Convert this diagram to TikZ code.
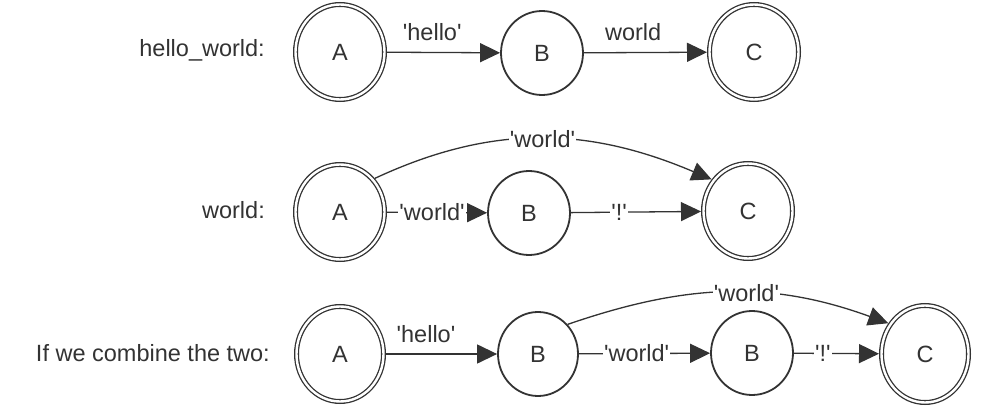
\documentclass[tikz,border=0pt]{standalone}
\usepackage{fontspec}
\setmainfont{Liberation Sans}[Ligatures=TeXOff]
\usetikzlibrary{arrows.meta,shapes.geometric}
\definecolor{ink}{HTML}{333333}
\begin{document}
\begin{tikzpicture}[x=1pt,y=-1pt,
  every node/.style={text=ink, font=\fontsize{23.5}{28}\selectfont},
  state/.style={ellipse, draw=ink, line width=1.8pt, inner sep=0pt, outer sep=0.9pt},
  accept/.style={ellipse, draw=ink, line width=1.3pt, double=white, double distance=2.4pt, inner sep=0pt, outer sep=2.5pt},
  edge/.style={draw=ink, line width=1.3pt, -{Triangle[length=20pt,width=19pt]}},
  onlab/.style={fill=white, inner sep=1pt},
  toplab/.style={above=10pt, inner sep=1pt},
  rowlabel/.style={anchor=east, inner sep=0pt}]
\fill[white] (0,0) rectangle (1001,409);
\useasboundingbox (0,0) rectangle (1001,409);

% Row 1
\node[rowlabel] (l1) at (265,50) {hello\_world:};
\node[accept, minimum width=89pt, minimum height=95pt] (a1) at (340,52) {A};
\node[state, minimum width=82pt, minimum height=84pt] (b1) at (542,53) {B};
\node[accept, minimum width=89pt, minimum height=95pt] (c1) at (754,52) {C};
\draw[edge] (a1) -- node[toplab, pos=0.4] {'hello'} (b1);
\draw[edge] (b1) -- node[toplab, pos=0.4] {world} (c1);

% Row 2
\node[rowlabel] (l2) at (265,210) {world:};
\node[accept, minimum width=89pt, minimum height=95pt] (a2) at (340,212) {A};
\node[state, minimum width=82pt, minimum height=84pt] (b2) at (529,213) {B};
\node[accept, minimum width=89pt, minimum height=95pt] (c2) at (748,211) {C};
\draw[edge] (a2) -- node[onlab, pos=0.45] {'world'} (b2);
\draw[edge] (b2) -- node[onlab, pos=0.37] {'!'} (c2);
\draw[edge] (a2.44) to[out=25, in=157] node[onlab, midway] {'world'} (c2.139);

% Row 3
\node[rowlabel] (l3) at (270,353) {If we combine the two:};
\node[accept, minimum width=87pt, minimum height=95pt] (a3) at (340,354) {A};
\node[state, minimum width=80pt, minimum height=84pt] (b3) at (538,354) {B};
\node[state, minimum width=82pt, minimum height=84pt] (b4) at (752,353) {B};
\node[accept, minimum width=87pt, minimum height=97pt] (c3) at (925,354) {C};
\draw[edge] (a3) -- node[toplab, pos=0.36] {'hello'} (b3);
\draw[edge] (b3) -- node[onlab, pos=0.44] {'world'} (b4);
\draw[edge] (b4) -- node[onlab, pos=0.34] {'!'} (c3);
\draw[edge] (b3.45) to[out=19, in=160] node[onlab, pos=0.56] {'world'} (c3.140);
\end{tikzpicture}
\end{document}
